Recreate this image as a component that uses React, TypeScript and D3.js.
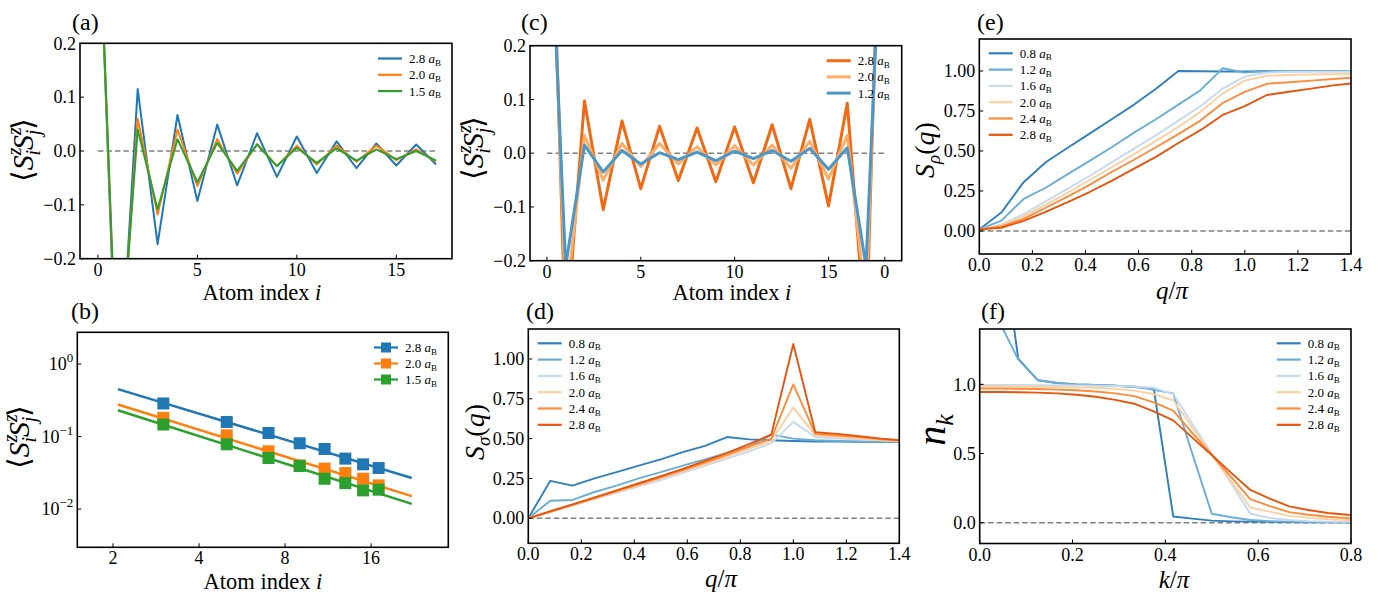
import React from 'react';
import * as d3 from 'd3';

const FONT = "'Liberation Serif', 'Times New Roman', Times, serif";

// ---------- (a) ----------
const atomIdxA = [0, 1, 2, 3, 4, 5, 6, 7, 8, 9, 10, 11, 12, 13, 14, 15, 16, 17];
const corrA28 = [0.5, -0.5, 0.115, -0.173, 0.067, -0.093, 0.049, -0.064, 0.033, -0.048, 0.027, -0.041, 0.018, -0.032, 0.014, -0.027, 0.012, -0.025];
const corrA20 = [0.5, -0.48, 0.06, -0.118, 0.04, -0.065, 0.022, -0.042, 0.013, -0.028, 0.01, -0.025, 0.01, -0.02, 0.01, -0.017, 0.003, -0.02];
const corrA15 = [0.5, -0.46, 0.04, -0.108, 0.022, -0.058, 0.015, -0.037, 0.012, -0.028, 0.006, -0.022, 0.005, -0.018, 0.003, -0.015, 0.0, -0.018];

// ---------- (b) ----------
const atomIdxB = [3, 5, 7, 9, 11, 13, 15, 17];
const absCorrB28 = [0.286, 0.159, 0.112, 0.0808, 0.0674, 0.0496, 0.0414, 0.0368];
const absCorrB20 = [0.181, 0.104, 0.0626, 0.0401, 0.0361, 0.0314, 0.0262, 0.0212];
const absCorrB15 = [0.1466, 0.0782, 0.0506, 0.0392, 0.0262, 0.0228, 0.0181, 0.0185];
const fitX = [2.08, 22.2];
const fitB28 = [0.451, 0.0268];
const fitB20 = [0.277, 0.0151];
const fitB15 = [0.231, 0.0118];

// ---------- (c) ----------
const atomIdxC = [0, 1, 2, 3, 4, 5, 6, 7, 8, 9, 10, 11, 12, 13, 14, 15, 16, 17, 18];
const corrC28 = [0.8, -0.35, 0.097, -0.105, 0.06, -0.066, 0.05, -0.051, 0.047, -0.053, 0.049, -0.055, 0.053, -0.066, 0.063, -0.098, 0.093, -0.35, 0.8];
const corrC20 = [0.7, -0.28, 0.033, -0.05, 0.018, -0.025, 0.018, -0.02, 0.012, -0.022, 0.014, -0.022, 0.015, -0.028, 0.022, -0.048, 0.033, -0.28, 0.7];
const corrC12 = [0.6, -0.21, 0.015, -0.035, 0.005, -0.02, 0.001, -0.012, 0.002, -0.014, 0.004, -0.01, 0.005, -0.015, 0.009, -0.03, 0.01, -0.21, 0.6];

// ---------- (d), (e) ----------
const qGrid = [0, 0.083, 0.167, 0.25, 0.333, 0.417, 0.5, 0.583, 0.667, 0.75, 0.833, 0.917, 1.0, 1.083, 1.167, 1.25, 1.333, 1.417];
const sSigma08 = [0, 0.235, 0.205, 0.25, 0.29, 0.33, 0.37, 0.415, 0.455, 0.51, 0.495, 0.49, 0.485, 0.482, 0.481, 0.48, 0.479, 0.479];
const sSigma12 = [0, 0.11, 0.115, 0.165, 0.205, 0.25, 0.29, 0.33, 0.37, 0.41, 0.45, 0.525, 0.5, 0.49, 0.485, 0.482, 0.48, 0.48];
const sSigma16 = [0, 0.04, 0.08, 0.12, 0.16, 0.2, 0.24, 0.285, 0.33, 0.375, 0.42, 0.47, 0.605, 0.51, 0.5, 0.495, 0.49, 0.485];
const sSigma20 = [0, 0.04, 0.082, 0.123, 0.165, 0.207, 0.25, 0.295, 0.34, 0.387, 0.435, 0.485, 0.695, 0.52, 0.51, 0.5, 0.49, 0.485];
const sSigma24 = [0, 0.04, 0.084, 0.127, 0.17, 0.213, 0.257, 0.302, 0.35, 0.398, 0.45, 0.5, 0.84, 0.53, 0.52, 0.51, 0.495, 0.487];
const sSigma28 = [0, 0.045, 0.087, 0.131, 0.175, 0.22, 0.265, 0.31, 0.36, 0.41, 0.465, 0.525, 1.094, 0.54, 0.53, 0.515, 0.5, 0.488];

const sRho08 = [0.01, 0.115, 0.305, 0.43, 0.52, 0.61, 0.7, 0.79, 0.89, 1.0, 0.998, 0.997, 0.997, 0.998, 0.998, 0.999, 0.999, 0.999];
const sRho12 = [0.01, 0.065, 0.2, 0.27, 0.355, 0.44, 0.525, 0.615, 0.7, 0.79, 0.88, 1.017, 0.99, 1.0, 1.0, 1.0, 1.0, 1.0];
const sRho16 = [0.01, 0.04, 0.105, 0.185, 0.265, 0.345, 0.43, 0.515, 0.6, 0.69, 0.78, 0.89, 0.965, 0.99, 0.995, 0.995, 0.995, 0.995];
const sRho20 = [0.01, 0.035, 0.09, 0.165, 0.24, 0.32, 0.4, 0.48, 0.565, 0.65, 0.745, 0.86, 0.94, 0.97, 0.975, 0.978, 0.98, 0.982];
const sRho24 = [0.01, 0.028, 0.075, 0.145, 0.215, 0.29, 0.37, 0.445, 0.525, 0.605, 0.69, 0.8, 0.87, 0.92, 0.93, 0.94, 0.95, 0.96];
const sRho28 = [0.01, 0.02, 0.063, 0.12, 0.18, 0.245, 0.315, 0.39, 0.465, 0.55, 0.63, 0.725, 0.78, 0.85, 0.87, 0.89, 0.91, 0.925];

// ---------- (f) ----------
const kGrid = [0, 0.042, 0.083, 0.125, 0.167, 0.208, 0.25, 0.292, 0.333, 0.375, 0.417, 0.458, 0.5, 0.542, 0.583, 0.625, 0.667, 0.708, 0.75, 0.792, 0.833];
const nk08 = [3.0, 2.2, 1.185, 1.03, 1.01, 1.0, 0.995, 0.99, 0.98, 0.97, 0.045, 0.03, 0.015, 0.01, 0.008, 0.006, 0.005, 0.004, 0.003, 0.003, 0.003];
const nk12 = [1.8, 1.455, 1.18, 1.03, 1.01, 1.0, 0.995, 0.99, 0.985, 0.96, 0.935, 0.5, 0.065, 0.04, 0.02, 0.012, 0.008, 0.006, 0.005, 0.004, 0.004];
const nk16 = [0.995, 0.995, 0.995, 0.994, 0.993, 0.992, 0.99, 0.988, 0.985, 0.975, 0.93, 0.715, 0.5, 0.285, 0.065, 0.035, 0.02, 0.012, 0.008, 0.006, 0.005];
const nk20 = [0.985, 0.985, 0.984, 0.983, 0.981, 0.978, 0.975, 0.968, 0.955, 0.93, 0.885, 0.69, 0.49, 0.3, 0.11, 0.08, 0.05, 0.035, 0.025, 0.02, 0.018];
const nk24 = [0.97, 0.97, 0.968, 0.966, 0.962, 0.957, 0.948, 0.935, 0.915, 0.87, 0.81, 0.65, 0.49, 0.33, 0.17, 0.12, 0.077, 0.058, 0.043, 0.033, 0.03];
const nk28 = [0.945, 0.945, 0.943, 0.94, 0.935, 0.925, 0.91, 0.888, 0.86, 0.805, 0.74, 0.615, 0.49, 0.36, 0.237, 0.175, 0.118, 0.092, 0.07, 0.058, 0.052];

// labels / ticks
const labelsABC = ['2.8', '2.0', '1.5'];
const labelsC = ['2.8', '2.0', '1.2'];
const labelsSix = ['0.8', '1.2', '1.6', '2.0', '2.4', '2.8'];
const ticksA = [0, 5, 10, 15];
const ticksC = [0, 5, 10, 15, 18];
const tickLabelsC = ['0', '5', '10', '15', '0'];
const ticksCorrY = [-0.2, -0.1, 0.0, 0.1, 0.2];
const ticksBX = [2, 4, 8, 16];
const ticksBY = [1, 0.1, 0.01];
const tickBYExp = ['0', '−1', '−2'];
const ticksQ = [0, 0.2, 0.4, 0.6, 0.8, 1.0, 1.2, 1.4];
const ticksS = [0, 0.25, 0.5, 0.75, 1.0];
const ticksK = [0, 0.2, 0.4, 0.6, 0.8];
const ticksN = [0, 0.5, 1.0];

// colours
const TAB = ['#1f77b4', '#ff7f0e', '#2ca02c'];
const COLORS_C = ['#f16913', '#fdae6b', '#4a98c9'];
const COLORS_SIX = ['#3080bd', '#6aaed6', '#c6dbef', '#fdd0a2', '#fd8d3c', '#e6550d'];

const TICK_FS = 18;
const XLAB_FS = 22.5;
const MATH_FS = 25;
const fmtMinus = (s: string) => s.replace('-', '−');

type Tick = { v: number; label: React.ReactNode };
type LineSpec = { xs: number[]; ys: number[]; color: string; width: number; marker?: boolean };
type LegendItem = { text: string; color: string; width: number; marker?: boolean };

const aB = (val: string) => (
  <>
    {val}{' '}
    <tspan fontStyle="italic">a</tspan>
    <tspan fontSize={9} dy={2.5}>B</tspan>
  </>
);

function Panel(props: {
  id: string;
  x0: number; y0: number; x1: number; y1: number;
  xs: (v: number) => number;
  ys: (v: number) => number;
  xTicks: Tick[];
  yTicks: Tick[];
  zero?: [number, number];
  lines: LineSpec[];
  legend: { x: number; y: number; step: number; items: LegendItem[] };
  markerSize?: number;
}) {
  const { id, x0, y0, x1, y1, xs, ys } = props;
  const line = d3.line<[number, number]>().x((d) => xs(d[0])).y((d) => ys(d[1]));
  const ms = props.markerSize ?? 12;
  return (
    <g>
      <defs>
        <clipPath id={id}>
          <rect x={x0} y={y0} width={x1 - x0} height={y1 - y0} />
        </clipPath>
      </defs>
      <g clipPath={`url(#${id})`}>
        {props.zero && (
          <line x1={xs(props.zero[0])} x2={xs(props.zero[1])} y1={ys(0)} y2={ys(0)}
            stroke="#808080" strokeWidth={1.5} strokeDasharray="5.5,3" />
        )}
        {props.lines.map((l, i) => {
          const pts = l.xs.map((x, j) => [x, l.ys[j]] as [number, number]);
          return (
            <g key={i}>
              {l.width > 0 && (
                <path d={line(pts) || ''} fill="none" stroke={l.color} strokeWidth={l.width} strokeLinejoin="round" />
              )}
              {l.marker && pts.map((p, j) => (
                <rect key={j} x={xs(p[0]) - ms / 2} y={ys(p[1]) - ms / 2} width={ms} height={ms} fill={l.color} />
              ))}
            </g>
          );
        })}
      </g>
      <rect x={x0} y={y0} width={x1 - x0} height={y1 - y0} fill="none" stroke="#000" strokeWidth={1.6} />
      {props.xTicks.map((t, i) => (
        <g key={'x' + i}>
          <line x1={xs(t.v)} x2={xs(t.v)} y1={y1} y2={y1 - 4} stroke="#000" strokeWidth={1} />
          <text x={xs(t.v)} y={y1 + 17} textAnchor="middle" fontSize={TICK_FS}>{t.label}</text>
        </g>
      ))}
      {props.yTicks.map((t, i) => (
        <g key={'y' + i}>
          <line x1={x0} x2={x0 + 4} y1={ys(t.v)} y2={ys(t.v)} stroke="#000" strokeWidth={1} />
          <text x={x0 - 4} y={ys(t.v) + 6.2} textAnchor="end" fontSize={TICK_FS}>{t.label}</text>
        </g>
      ))}
      {props.legend.items.map((it, i) => {
        const yy = props.legend.y + i * props.legend.step;
        const lx = props.legend.x;
        return (
          <g key={'l' + i}>
            <line x1={lx} x2={lx + 24} y1={yy} y2={yy} stroke={it.color} strokeWidth={it.width} />
            {it.marker && <rect x={lx + 12 - 5} y={yy - 5} width={10} height={10} fill={it.color} />}
            <text x={lx + 31} y={yy + 4.5} fontSize={13}>{aB(it.text)}</text>
          </g>
        );
      })}
    </g>
  );
}

function CorrLabel({ x, y }: { x: number; y: number }) {
  return (
    <text transform={`translate(${x},${y}) rotate(-90)`} textAnchor="middle" fontSize={30}>
      <tspan>⟨</tspan>
      <tspan fontStyle="italic">S</tspan>
      <tspan fontStyle="italic" fontSize={20} dy={-12}>z</tspan>
      <tspan fontStyle="italic" fontSize={20} dx={-8} dy={19}>i</tspan>
      <tspan fontStyle="italic" dy={-7}>S</tspan>
      <tspan fontStyle="italic" fontSize={20} dy={-12}>z</tspan>
      <tspan fontStyle="italic" fontSize={20} dx={-8} dy={19}>j</tspan>
      <tspan dy={-7}>⟩</tspan>
    </text>
  );
}

export default function App() {
  // scales
  const xA = d3.scaleLinear().domain([-0.9, 17.8]).range([80, 452]);
  const yA = d3.scaleLinear().domain([-0.2, 0.2]).range([258.7, 43.3]);
  const xB = d3.scaleLog().domain([1.5, 29.8]).range([77.3, 448.3]);
  const yB = d3.scaleLog().domain([0.00297, 2.74]).range([547.3, 332.3]);
  const xC = d3.scaleLinear().domain([-0.9, 18.9]).range([530, 901.7]);
  const yC = d3.scaleLinear().domain([-0.2, 0.2]).range([260.7, 45.7]);
  const xD = d3.scaleLinear().domain([0, 1.4]).range([528.3, 899.3]);
  const yD = d3.scaleLinear().domain([-0.157, 1.188]).range([543.3, 329]);
  const xE = d3.scaleLinear().domain([0, 1.4]).range([979.3, 1351]);
  const yE = d3.scaleLinear().domain([-0.144, 1.2]).range([254, 39]);
  const xF = d3.scaleLinear().domain([0, 0.8]).range([979.7, 1351]);
  const yF = d3.scaleLinear().domain([-0.15, 1.4]).range([543.5, 329]);

  const corrYTicks = ticksCorrY.map((v) => ({ v, label: fmtMinus(v.toFixed(1)) }));
  const sTicks = ticksS.map((v) => ({ v, label: v.toFixed(2) }));
  const qTicks = ticksQ.map((v) => ({ v, label: v.toFixed(1) }));

  const sixD = [sSigma08, sSigma12, sSigma16, sSigma20, sSigma24, sSigma28];
  const sixE = [sRho08, sRho12, sRho16, sRho20, sRho24, sRho28];
  const sixF = [nk08, nk12, nk16, nk20, nk24, nk28];

  const sixLegend = labelsSix.map((t, i) => ({ text: t, color: COLORS_SIX[i], width: 2.2 }));

  const bSeries = [absCorrB28, absCorrB20, absCorrB15];
  const bFits = [fitB28, fitB20, fitB15];
  const bLines: LineSpec[] = [];
  bFits.forEach((ys, i) => {
    bLines.push({ xs: fitX, ys, color: TAB[i], width: 2.5 });
    bLines.push({ xs: atomIdxB, ys: bSeries[i], color: TAB[i], width: 0, marker: true });
  });

  return (
    <svg width={1379} height={593} style={{ position: 'absolute', left: 0, top: 0, fontFamily: FONT }}>
      <rect x={0} y={0} width={1379} height={593} fill="#fff" />

      {/* (a) */}
      <Panel id="ca" x0={80} y0={43.3} x1={452} y1={258.7} xs={xA} ys={yA}
        xTicks={ticksA.map((v) => ({ v, label: String(v) }))}
        yTicks={corrYTicks}
        zero={[0, 17]}
        lines={[corrA28, corrA20, corrA15].map((ys, i) => ({ xs: atomIdxA, ys, color: TAB[i], width: 2 }))}
        legend={{ x: 378, y: 58.5, step: 16.3, items: labelsABC.map((t, i) => ({ text: t, color: TAB[i], width: 2.2 })) }}
      />
      <text x={72} y={30} fontSize={24}>(a)</text>
      <text x={262} y={299.5} textAnchor="middle" fontSize={XLAB_FS}>Atom index <tspan fontStyle="italic">i</tspan></text>
      <CorrLabel x={33} y={150} />

      {/* (b) */}
      <Panel id="cb" x0={77.3} y0={332.3} x1={448.3} y1={547.3} xs={xB} ys={yB}
        xTicks={ticksBX.map((v) => ({ v, label: String(v) }))}
        yTicks={ticksBY.map((v, i) => ({ v, label: <>10<tspan fontSize={13} dy={-8}>{tickBYExp[i]}</tspan></> }))}
        lines={bLines}
        legend={{ x: 374, y: 347.5, step: 16, items: labelsABC.map((t, i) => ({ text: t, color: TAB[i], width: 2.2, marker: true })) }}
      />
      <text x={71} y={319} fontSize={24}>(b)</text>
      <text x={263} y={588.5} textAnchor="middle" fontSize={XLAB_FS}>Atom index <tspan fontStyle="italic">i</tspan></text>
      <CorrLabel x={29} y={437} />

      {/* (c) */}
      <Panel id="cc" x0={530} y0={45.7} x1={901.7} y1={260.7} xs={xC} ys={yC}
        xTicks={ticksC.map((v, i) => ({ v, label: tickLabelsC[i] }))}
        yTicks={corrYTicks}
        zero={[0, 18]}
        lines={[corrC28, corrC20, corrC12].map((ys, i) => ({ xs: atomIdxC, ys, color: COLORS_C[i], width: 3 }))}
        legend={{ x: 826.7, y: 60.7, step: 16.2, items: labelsC.map((t, i) => ({ text: t, color: COLORS_C[i], width: 3 })) }}
      />
      <text x={521} y={30} fontSize={24}>(c)</text>
      <text x={732} y={300} textAnchor="middle" fontSize={XLAB_FS}>Atom index <tspan fontStyle="italic">i</tspan></text>
      <CorrLabel x={483} y={148} />

      {/* (d) */}
      <Panel id="cd" x0={528.3} y0={329} x1={899.3} y1={543.3} xs={xD} ys={yD}
        xTicks={qTicks} yTicks={sTicks} zero={[0, 1.4]}
        lines={sixD.map((ys, i) => ({ xs: qGrid, ys, color: COLORS_SIX[i], width: 1.9 }))}
        legend={{ x: 537.7, y: 343.3, step: 16.3, items: sixLegend }}
      />
      <text x={526} y={319} fontSize={24}>(d)</text>
      <text x={721} y={587} textAnchor="middle" fontSize={MATH_FS}>
        <tspan fontStyle="italic">q</tspan>/<tspan fontStyle="italic">π</tspan>
      </text>
      <text transform="translate(484,432) rotate(-90)" textAnchor="middle" fontSize={28}>
        <tspan fontStyle="italic">S</tspan>
        <tspan fontStyle="italic" fontSize={19} dy={6}>σ</tspan>
        <tspan dy={-6}>(</tspan><tspan fontStyle="italic">q</tspan>)
      </text>

      {/* (e) */}
      <Panel id="ce" x0={979.3} y0={39} x1={1351} y1={254} xs={xE} ys={yE}
        xTicks={qTicks} yTicks={sTicks} zero={[0, 1.4]}
        lines={sixE.map((ys, i) => ({ xs: qGrid, ys, color: COLORS_SIX[i], width: 1.9 }))}
        legend={{ x: 988.7, y: 53.3, step: 16.3, items: sixLegend }}
      />
      <text x={977} y={30} fontSize={24}>(e)</text>
      <text x={1172} y={299} textAnchor="middle" fontSize={MATH_FS}>
        <tspan fontStyle="italic">q</tspan>/<tspan fontStyle="italic">π</tspan>
      </text>
      <text transform="translate(934,150) rotate(-90)" textAnchor="middle" fontSize={28}>
        <tspan fontStyle="italic">S</tspan>
        <tspan fontStyle="italic" fontSize={19} dy={6}>ρ</tspan>
        <tspan dy={-6}>(</tspan><tspan fontStyle="italic">q</tspan>)
      </text>

      {/* (f) */}
      <Panel id="cf" x0={979.7} y0={329} x1={1351} y1={543.5} xs={xF} ys={yF}
        xTicks={ticksK.map((v) => ({ v, label: v.toFixed(1) }))}
        yTicks={ticksN.map((v) => ({ v, label: v.toFixed(1) }))}
        zero={[0, 0.8]}
        lines={sixF.map((ys, i) => ({ xs: kGrid, ys, color: COLORS_SIX[i], width: 1.9 }))}
        legend={{ x: 1276.7, y: 343.3, step: 16.3, items: sixLegend }}
      />
      <text x={981} y={319} fontSize={24}>(f)</text>
      <text x={1174} y={588} textAnchor="middle" fontSize={MATH_FS}>
        <tspan fontStyle="italic">k</tspan>/<tspan fontStyle="italic">π</tspan>
      </text>
      <text transform="translate(945,430) rotate(-90)" textAnchor="middle" fontSize={40}>
        <tspan fontStyle="italic">n</tspan>
        <tspan fontStyle="italic" fontSize={26} dy={8}>k</tspan>
      </text>
    </svg>
  );
}
